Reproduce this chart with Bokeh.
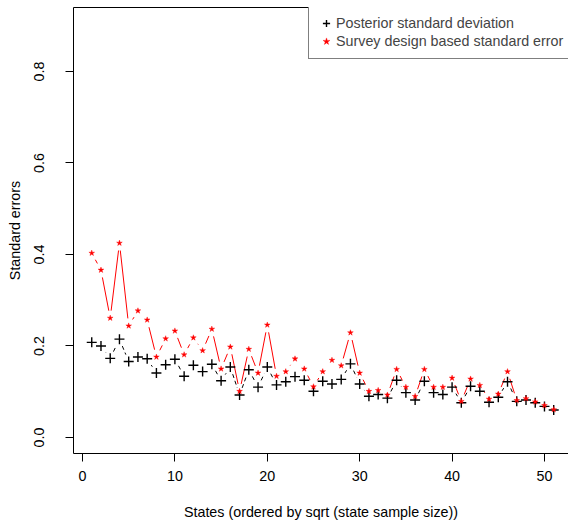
import math
from bokeh.plotting import figure
from bokeh.models import (Range1d, FixedTicker, LinearAxis, Legend, LegendItem,
                          PrintfTickFormatter)
from bokeh.embed import file_html
from bokeh.resources import INLINE

# ---------------- data ----------------
states = list(range(1, 52))
posterior_sd = [0.208, 0.200, 0.173, 0.215, 0.166, 0.176, 0.172, 0.141, 0.159, 0.171,
                0.134, 0.158, 0.144, 0.160, 0.124, 0.154, 0.093, 0.148, 0.110, 0.154,
                0.115, 0.122, 0.133, 0.125, 0.101, 0.123, 0.117, 0.127, 0.161, 0.117,
                0.090, 0.094, 0.086, 0.125, 0.098, 0.082, 0.123, 0.098, 0.094, 0.110,
                0.076, 0.112, 0.101, 0.077, 0.088, 0.122, 0.079, 0.082, 0.076, 0.068,
                0.060]
survey_se = [0.403, 0.366, 0.261, 0.425, 0.244, 0.277, 0.257, 0.176, 0.216, 0.233,
             0.181, 0.218, 0.190, 0.237, 0.150, 0.198, 0.101, 0.193, 0.141, 0.246,
             0.134, 0.144, 0.172, 0.150, 0.111, 0.144, 0.169, 0.157, 0.229, 0.141,
             0.101, 0.103, 0.093, 0.149, 0.110, 0.090, 0.149, 0.110, 0.110, 0.130,
             0.079, 0.128, 0.114, 0.084, 0.095, 0.144, 0.081, 0.085, 0.078, 0.070,
             0.061]
x_ticks = [0, 10, 20, 30, 40, 50]
y_ticks = [0.0, 0.2, 0.4, 0.6, 0.8]
legend_labels = ["Posterior standard deviation", "Survey design based standard error"]

# ---------------- layout ----------------
FONT = "Liberation Sans"
FS = "14.3px"
W, H = 568, 522
LEFT, RIGHT, TOP, BOTTOM = 73, 0, 7, 69
X0, X1 = -0.974, 52.60
Y0, Y1 = -0.035, 0.9399
fw = W - LEFT - RIGHT
fh = H - TOP - BOTTOM
sx = fw / (X1 - X0)
sy = fh / (Y1 - Y0)


def gapped(xs, ys, gap=7.5):
    """R type='b' style: segments shortened near each point."""
    a, b, c, d = [], [], [], []
    for i in range(len(xs) - 1):
        dx = (xs[i + 1] - xs[i]) * sx
        dy = (ys[i + 1] - ys[i]) * sy
        dist = math.hypot(dx, dy)
        f = gap / dist
        if f < 0.5:
            a.append(xs[i] + f * (xs[i + 1] - xs[i]))
            b.append(ys[i] + f * (ys[i + 1] - ys[i]))
            c.append(xs[i + 1] - f * (xs[i + 1] - xs[i]))
            d.append(ys[i + 1] - f * (ys[i + 1] - ys[i]))
    return a, b, c, d


p = figure(width=W, height=H, x_range=Range1d(X0, X1), y_range=Range1d(Y0, Y1),
           output_backend="svg", toolbar_location=None,
           min_border_left=LEFT, min_border_right=RIGHT,
           min_border_top=TOP, min_border_bottom=BOTTOM)
p.outline_line_color = None
p.xgrid.visible = False
p.ygrid.visible = False
p.background_fill_color = "white"
p.border_fill_color = "white"

# axes
for ax in (p.xaxis[0], p.yaxis[0]):
    ax.axis_line_color = "black"
    ax.axis_line_width = 1
    ax.major_tick_line_color = "black"
    ax.major_tick_out = 8
    ax.major_tick_in = 0
    ax.minor_tick_line_color = None
    ax.major_label_text_font = FONT
    ax.major_label_text_font_size = FS
    ax.major_label_text_color = "black"
    ax.axis_label_text_font = FONT
    ax.axis_label_text_font_size = FS
    ax.axis_label_text_font_style = "normal"
    ax.axis_label_text_color = "black"

p.xaxis.ticker = FixedTicker(ticks=x_ticks)
p.xaxis.axis_label = "States (ordered by sqrt (state sample size))"
p.xaxis.major_label_standoff = 9
p.xaxis.axis_label_standoff = 20

p.yaxis.ticker = FixedTicker(ticks=y_ticks)
p.yaxis.formatter = PrintfTickFormatter(format="%.1f")
p.yaxis.axis_label = "Standard errors"
p.yaxis.major_label_orientation = "vertical"
p.yaxis.major_label_standoff = 21
p.yaxis.axis_label_standoff = 9

top_axis = LinearAxis(ticker=FixedTicker(ticks=[]), major_label_text_font_size="0px",
                      major_tick_out=0, major_tick_in=0, minor_tick_out=0, minor_tick_in=0,
                      major_label_standoff=0, axis_line_color="black")
p.add_layout(top_axis, "above")

# connecting lines with gaps
ra, rb, rc, rd = gapped(states, survey_se)
p.segment(ra, rb, rc, rd, line_color="#ff0000", line_width=1)
ba, bb, bc, bd = gapped(states, posterior_sd)
p.segment(ba, bb, bc, bd, line_color="black", line_width=1, line_dash="4 3")

# points
r_black = p.scatter(states, posterior_sd, marker="cross", size=10, line_color="black",
                    line_width=1.4)
r_red = p.scatter(states, survey_se, marker="star", size=6, fill_color="#ff0000",
                  line_color="#ff0000", line_width=0.4)

legend = Legend(items=[LegendItem(label=legend_labels[0], renderers=[r_black]),
                       LegendItem(label=legend_labels[1], renderers=[r_red])],
                location=(235, fh - 52),
                label_text_font=FONT, label_text_font_size=FS,
                glyph_width=18, glyph_height=18, label_height=18,
                label_standoff=1, padding=8, spacing=0, margin=0,
                border_line_color="black", border_line_width=1,
                background_fill_color="white", background_fill_alpha=1)
p.add_layout(legend)

open("out.html", "w").write(file_html(p, INLINE))
